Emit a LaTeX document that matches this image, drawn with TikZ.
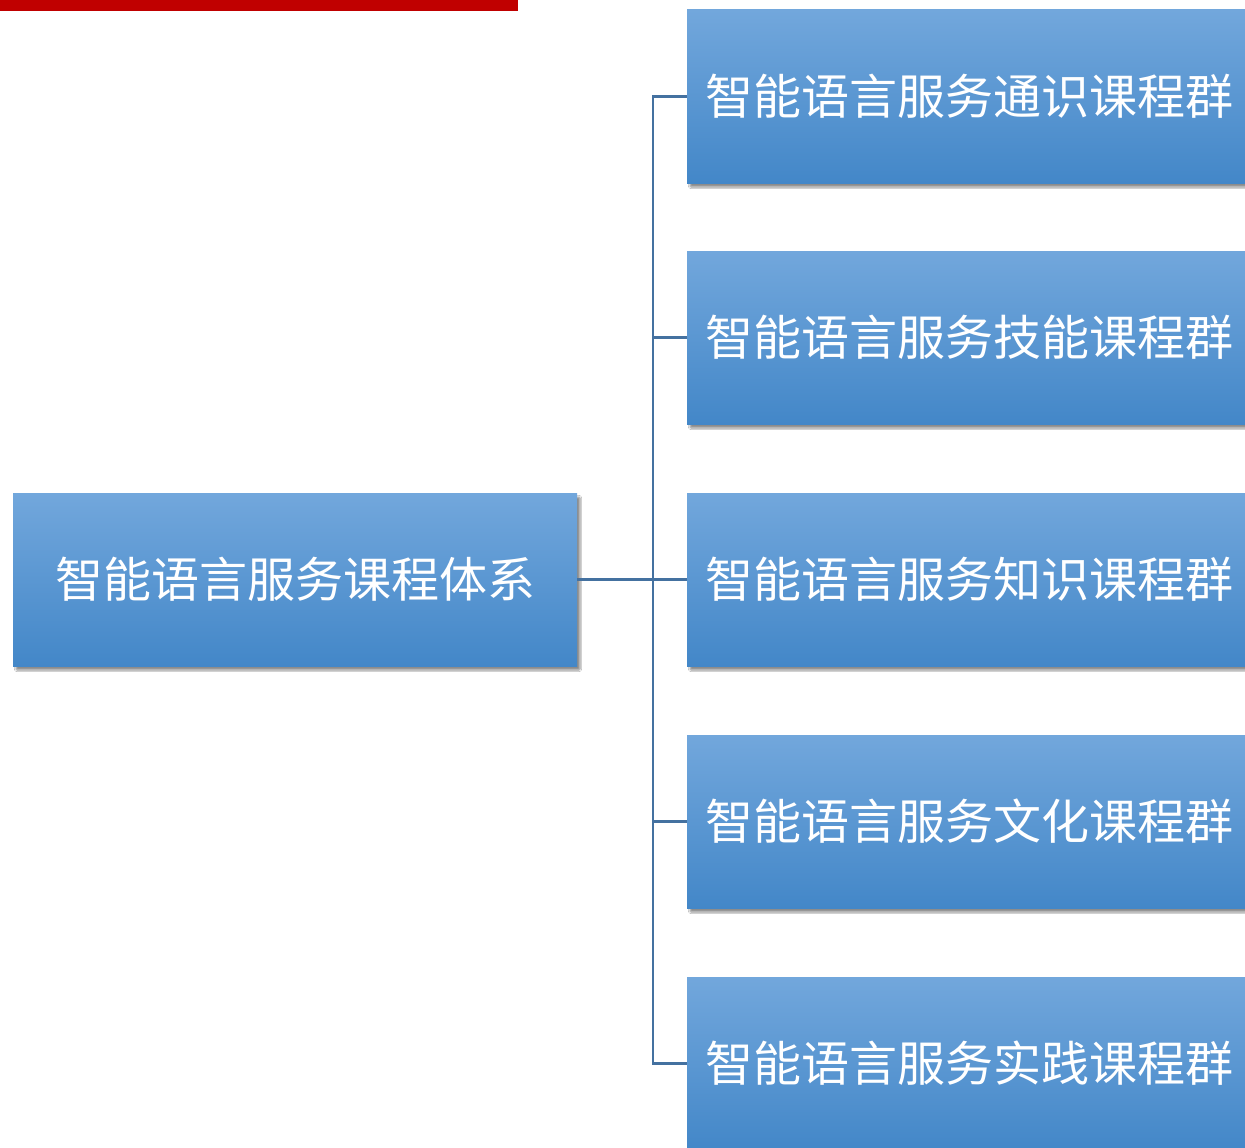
\documentclass[tikz,border=0pt]{standalone}
\usepackage{fontspec}
\newfontfamily\cjk{Noto Sans CJK SC}
\usetikzlibrary{shadows.blur}
\definecolor{boxtop}{RGB}{114,167,220}
\definecolor{boxbot}{RGB}{67,135,200}
\definecolor{linkc}{RGB}{68,113,160}
\definecolor{barred}{RGB}{192,0,0}
\tikzset{
  cbox/.style={rectangle, minimum width=564pt, minimum height=173pt, inner sep=0pt,
    top color=boxtop, bottom color=boxbot, draw=none,
    blur shadow={shadow xshift=3pt, shadow yshift=-4pt, shadow blur steps=6, shadow blur extra rounding=1pt, shadow opacity=45},
    text=white, font=\cjk\fontsize{48pt}{52pt}\selectfont},
  link/.style={draw=linkc, line width=2.3pt}
}
\begin{document}
\begin{tikzpicture}[x=1pt,y=-1pt]
\clip (0,0) rectangle (1245,1148);
\fill[white] (0,0) rectangle (1245,1148);
\fill[barred] (0,0) rectangle (518,11);
\node[cbox] (root) at (295,579.5) {智能语言服务课程体系};
\node[cbox] (b1) at (969,96.5) {智能语言服务通识课程群};
\node[cbox] (b2) at (969,337.5) {智能语言服务技能课程群};
\node[cbox] (b3) at (969,579.5) {智能语言服务知识课程群};
\node[cbox] (b4) at (969,821.5) {智能语言服务文化课程群};
\node[cbox] (b5) at (969,1063.5) {智能语言服务实践课程群};
\coordinate (j) at (653,579.5);
\begin{scope}[on background layer/.style={}]
\draw[link] (root.east) -- (b3.west);
\draw[link] (b1.west) -- (b1.west -| j) -- (b5.west -| j) -- (b5.west);
\draw[link] (b2.west -| j) -- (b2.west);
\draw[link] (b4.west -| j) -- (b4.west);
\end{scope}
\end{tikzpicture}
\end{document}
